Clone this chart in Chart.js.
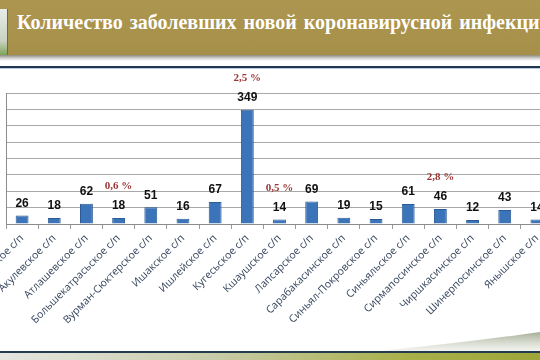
<!DOCTYPE html>
<html>
<head>
<meta charset="utf-8">
<script src="https://cdn.jsdelivr.net/npm/chart.js@4"></script>
<style>
    html, body { margin: 0; padding: 0; }
    body { width: 540px; height: 360px; overflow: hidden; position: relative; background: #fff; }
    #header { position: absolute; left: 0; top: 0; width: 540px; height: 55px; background: linear-gradient(#ad964f, #a68f48); }
    #shadow { position: absolute; left: 0; top: 55px; width: 540px; height: 6px; background: linear-gradient(#8f8a7c, #d8d8d8 60%, #fff); }
    #icon { position: absolute; left: 0; top: 9px; width: 7px; height: 46px; background: linear-gradient(#e8ece8, #c9d2c0 70%, #7ea35a); border-right: 1px solid #666; }
    #title { position: absolute; left: 17px; top: 11px; white-space: nowrap; color: #fff; font: bold 20px "Liberation Serif", serif; word-spacing: 2px; }
    #topline { position: absolute; left: 0; top: 66px; width: 540px; height: 2px; background: #1f3550; }
    #topline2 { position: absolute; left: 0; top: 68px; width: 540px; height: 1px; background: #b9cde0; }
    #botline { position: absolute; left: 0; top: 351px; width: 540px; height: 2px; background: #243a4e; }
    #strip { position: absolute; left: 0; top: 353px; width: 540px; height: 7px; background: linear-gradient(90deg, #e4e6e0, #c8cba8 40%, #a9b04a 75%, #9ea63a); }
    #swoosh { position: absolute; left: 0; top: 320px; }
    #chartBox { position: absolute; left: 0; top: 70px; width: 560px; height: 280px; }
</style>
</head>
<body>
<div id="header"></div>
<div id="shadow"></div>
<div id="icon"></div>
<div id="title">Количество заболевших новой коронавирусной инфекции</div>
<div id="topline"></div>
<div id="topline2"></div>
<svg id="swoosh" width="540" height="32">
    <defs>
        <linearGradient id="sw" x1="0" y1="0" x2="0" y2="1">
            <stop offset="0" stop-color="#7d8a6a" stop-opacity="0.7"/>
            <stop offset="1" stop-color="#dfe3d5" stop-opacity="0.4"/>
        </linearGradient>
    </defs>
    <path d="M380,31 Q470,22 540,12 L540,31 Z" fill="url(#sw)"/>
</svg>
<div id="botline"></div>
<div id="strip"></div>
<div id="chartBox"><canvas id="myChart" width="560" height="280"></canvas></div>

<script>
// данные
var categories = ['Абашевское с/п', 'Акулевское с/п', 'Атлашевское с/п', 'Большекатрасьское с/п',
    'Вурман-Сюктерское с/п', 'Ишакское с/п', 'Ишлейское с/п', 'Кугесьское с/п', 'Кшаушское с/п',
    'Лапсарское с/п', 'Сарабакасинское с/п', 'Синьял-Покровское с/п', 'Синьяльское с/п',
    'Сирмапосинское с/п', 'Чиршкасинское с/п', 'Шинерпосинское с/п', 'Янышское с/п'];
var cases = [26, 18, 62, 18, 51, 16, 67, 349, 14, 69, 19, 15, 61, 46, 12, 43, 14];
var yTicks = [0, 50, 100, 150, 200, 250, 300, 350, 400];
var pctCategories = ['Большекатрасьское с/п', 'Кугесьское с/п', 'Кшаушское с/п', 'Сирмапосинское с/п'];
var pctTexts = ['0,6 %', '2,5 %', '0,5 %', '2,8 %'];

// подписи значений и процентов над столбцами
var barLabels = {
    id: 'barLabels',
    afterDatasetsDraw: function (chart) {
        var ctx = chart.ctx;
        var bars = chart.getDatasetMeta(0).data;
        ctx.save();
        ctx.textAlign = 'center';
        ctx.textBaseline = 'bottom';
        ctx.fillStyle = '#111';
        ctx.font = 'bold 12px "Liberation Sans", sans-serif';
        bars.forEach(function (bar, i) {
            ctx.fillText(cases[i], bar.x, bar.y - 6);
        });
        ctx.fillStyle = '#9b3535';
        ctx.font = 'bold 11px "Liberation Serif", serif';
        pctCategories.forEach(function (cat, i) {
            var bar = bars[categories.indexOf(cat)];
            ctx.fillText(pctTexts[i], bar.x, bar.y - 26);
        });
        ctx.restore();
    }
};

const ctx = document.getElementById('myChart');
new Chart(ctx, {
    type: 'bar',
    data: {
        labels: categories,
        datasets: [{
            label: 'Заболевшие',
            data: cases,
            backgroundColor: '#3c74ba',
            borderColor: '#2b5a96',
            borderWidth: 1,
            categoryPercentage: 1,
            barPercentage: 0.4
        }]
    },
    options: {
        responsive: false,
        animation: false,
        layout: { padding: { left: 6, right: 7, top: 23, bottom: 0 } },
        plugins: { legend: { display: false }, tooltip: { enabled: false } },
        scales: {
            y: {
                min: 0,
                max: 400,
                afterBuildTicks: function (axis) {
                    axis.ticks = yTicks.map(function (v) { return { value: v }; });
                },
                ticks: { display: false },
                grid: { color: '#a9a9a9', drawTicks: false },
                border: { color: '#8c8c8c' }
            },
            x: {
                grid: { offset: true, drawOnChartArea: false, tickLength: 5, color: '#9a9a9a' },
                border: { color: '#8c8c8c' },
                ticks: {
                    maxRotation: 45,
                    minRotation: 45,
                    autoSkip: false,
                    color: '#36465e',
                    font: { family: '"Open Sans", sans-serif', size: 10.5 }
                },
                afterFit: function (axis) {
                    axis.height = 126;
                    axis.paddingLeft = 0;
                    axis.paddingRight = 0;
                }
            }
        }
    },
    plugins: [barLabels]
});
</script>
</body>
</html>
